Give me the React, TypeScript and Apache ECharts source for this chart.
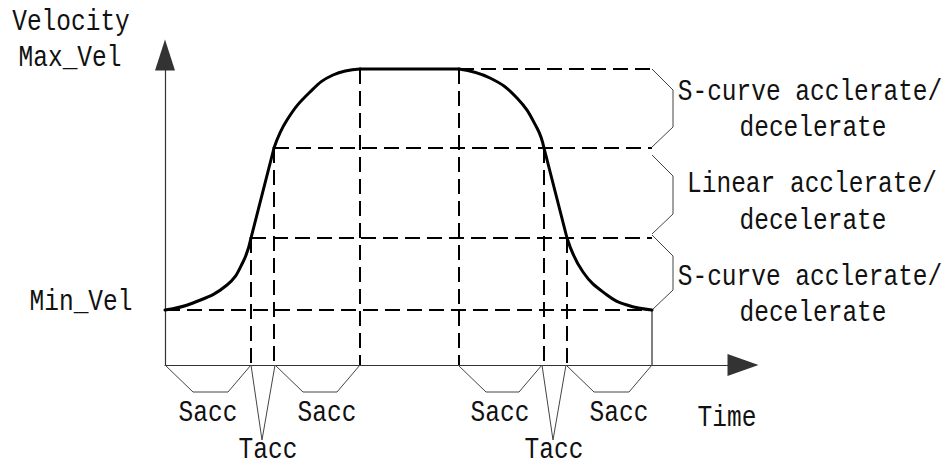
import React, { useEffect, useRef } from "react";
import * as echarts from "echarts";

// ---- data (time / velocity in diagram units) ----
const curveTime = [0, 28, 62, 78, 86, 109, 122, 145, 168, 195, 294, 325, 352, 372, 379, 402, 418, 442, 462, 487];
const curveVel = [55, 62, 80, 103, 127, 217, 245, 273, 290, 296, 296, 287, 267, 237, 217, 127, 93, 70, 60, 55];
// index ranges of the curve that are S-curve (smoothed) vs straight
const curveSegments = [
  [0, 4, 1],
  [4, 5, 0],
  [5, 9, 1],
  [9, 10, 0],
  [10, 14, 1],
  [14, 15, 0],
  [15, 19, 1],
];

const levelValues = [55, 127, 217, 296];
const levelStartTimes = [0, 86, 109, 294];
const endTime = 487;

const guideTimes = [86, 109, 195, 294, 379, 402];
const guideTops = [127, 217, 296, 296, 217, 127];

const saccSpans = [
  [0, 86],
  [110, 195],
  [293, 377],
  [401, 487],
];
const taccSpans = [
  [86, 110],
  [377, 401],
];
const braceSpans = [
  [218, 296],
  [131, 210],
  [55, 130],
];

const yTitle = "Velocity";
const maxLabel = "Max_Vel";
const minLabel = "Min_Vel";
const xTitle = "Time";
const saccLabel = "Sacc";
const taccLabel = "Tacc";
const braceLines = [
  ["S-curve acclerate/", "decelerate"],
  ["Linear acclerate/", "decelerate"],
  ["S-curve acclerate/", "decelerate"],
];

const FONT = "'Liberation Mono', 'DejaVu Sans Mono', monospace";
const FS = 24.5;
const SY = 1.18;

function txt(text: string, x: number, y: number) {
  return {
    type: "text",
    x,
    y,
    scaleY: SY,
    silent: true,
    style: {
      text,
      fill: "#111",
      fontSize: FS,
      fontFamily: FONT,
      align: "center",
      verticalAlign: "middle",
      textAlign: "center",
      textVerticalAlign: "middle",
    },
  };
}

export default function App() {
  const ref = useRef<HTMLDivElement>(null);

  useEffect(() => {
    if (!ref.current) return;
    const chart = echarts.init(ref.current, null, { renderer: "svg" });

    const thin = { color: "#444", width: 1 };
    const dashed = { color: "#000", width: 2, type: [15, 7] as any };
    const base = {
      type: "line" as const,
      symbol: "none",
      clip: false,
      silent: true,
      animation: false,
    };

    const series: any[] = [];

    // horizontal dashed guides
    levelValues.forEach((v, i) => {
      series.push({ ...base, lineStyle: dashed, data: [[levelStartTimes[i], v], [endTime, v]] });
    });
    // vertical dashed guides
    guideTimes.forEach((t, i) => {
      series.push({ ...base, lineStyle: dashed, data: [[t, guideTops[i]], [t, 0]] });
    });
    // end solid line
    series.push({ ...base, lineStyle: { color: "#555", width: 1.5 }, data: [[endTime, levelValues[0]], [endTime, 0]] });

    // Sacc brackets
    saccSpans.forEach(([s, e]) => {
      series.push({ ...base, lineStyle: thin, data: [[s, 0], [s + 28, -27], [e - 23, -27], [e, 0]] });
    });
    // Tacc V marks
    taccSpans.forEach(([s, e]) => {
      series.push({ ...base, lineStyle: thin, data: [[s, 0], [s + 11, -75], [e, 0]] });
    });
    // right braces
    braceSpans.forEach(([lo, hi]) => {
      series.push({
        ...base,
        lineStyle: thin,
        data: [[endTime, hi], [endTime + 21, hi - 21], [endTime + 21, lo + 20], [endTime, lo]],
      });
    });

    // velocity curve, segment by segment
    curveSegments.forEach(([a, b, sm]) => {
      const pts: number[][] = [];
      for (let i = a; i <= b; i++) pts.push([curveTime[i], curveVel[i]]);
      series.push({
        ...base,
        smooth: sm ? 0.45 : false,
        lineStyle: { color: "#000", width: 3, cap: "round", join: "round" },
        z: 5,
        data: pts,
      });
    });

    const graphic: any[] = [
      txt(yTitle, 71, 22),
      txt(maxLabel, 70, 58),
      txt(minLabel, 81, 302),
      txt(braceLines[0][0], 810, 92),
      txt(braceLines[0][1], 813, 128),
      txt(braceLines[1][0], 812, 184),
      txt(braceLines[1][1], 813, 221),
      txt(braceLines[2][0], 810, 277),
      txt(braceLines[2][1], 813, 313),
      txt(saccLabel, 208, 413),
      txt(saccLabel, 327, 413),
      txt(saccLabel, 500, 413),
      txt(saccLabel, 619, 413),
      txt(taccLabel, 268, 450),
      txt(taccLabel, 554, 450),
      txt(xTitle, 727, 418),
    ];

    chart.setOption({
      animation: false,
      backgroundColor: "#fff",
      grid: { left: 165, top: 55, width: 578, height: 310, containLabel: false },
      xAxis: {
        type: "value",
        min: 0,
        max: 578,
        axisLine: {
          show: true,
          onZero: true,
          symbol: ["none", "triangle"],
          symbolSize: [22, 31],
          lineStyle: { color: "#333", width: 1.2 },
        },
        axisTick: { show: false },
        axisLabel: { show: false },
        splitLine: { show: false },
      },
      yAxis: {
        type: "value",
        min: 0,
        max: 310,
        axisLine: {
          show: true,
          symbol: ["none", "triangle"],
          symbolSize: [20, 31],
          lineStyle: { color: "#333", width: 1.2 },
        },
        axisTick: { show: false },
        axisLabel: { show: false },
        splitLine: { show: false },
      },
      series,
      graphic,
    });

    return () => chart.dispose();
  }, []);

  return (
    <div
      ref={ref}
      style={{ position: "fixed", left: 0, top: 0, width: 950, height: 465, background: "#fff" }}
    />
  );
}
